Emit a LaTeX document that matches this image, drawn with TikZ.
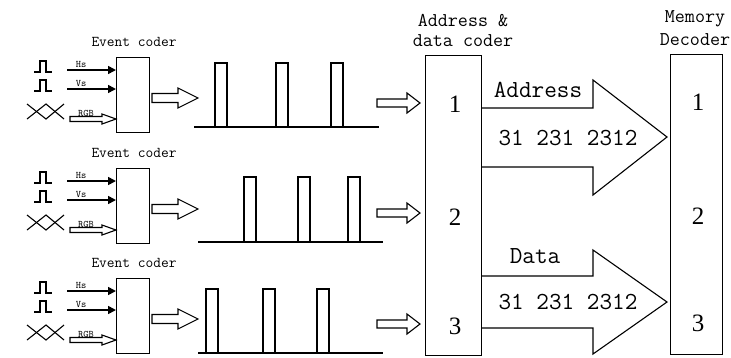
\documentclass[tikz,border=0pt]{standalone}
\usepackage{fontspec}
\setmainfont{Liberation Serif}
\usetikzlibrary{arrows.meta}

% hollow block arrow: from x0 to x1 at height y, shaft half-height h,
% head half-height H, head length L
\newcommand\hollowarrow[6]{%
  \draw[line width=1.1pt,line join=miter]
    (#1,#3-#4) -- (#2-#6,#3-#4) -- (#2-#6,#3-#5) -- (#2,#3)
    -- (#2-#6,#3+#5) -- (#2-#6,#3+#4) -- (#1,#3+#4) -- cycle;}

% small pulse glyph: base from x, at baseline y
\newcommand\pulseglyph[2]{%
  \draw[line width=1.1pt] (#1,#2) -- (#1+6,#2) -- (#1+6,#2-11) -- (#1+12,#2-11)
    -- (#1+12,#2) -- (#1+18,#2);}

% crossing bus glyph
\newcommand\busglyph[2]{%
  \draw[line width=1.1pt] (#1,#2-12) -- (#1+19,#2+3) -- (#1+37,#2-12);
  \draw[line width=1.1pt] (#1,#2+3) -- (#1+19,#2-12) -- (#1+37,#2+3);}

% one pulse of a pulse train
\newcommand\trainpulse[3]{%
  \draw[line width=1.1pt] (#1,#3) -- (#1,#2) -- (#1+12,#2) -- (#1+12,#3);}

\begin{document}
\begin{tikzpicture}[x=1pt,y=-1pt,
  box/.style={draw,line width=1.1pt,inner sep=0pt},
  sig/.style={line width=1.6pt,-{Triangle[length=8pt,width=8pt]}},
  tiny/.style={font=\ttfamily\fontsize{10}{10}\selectfont,inner sep=0pt},
  coderlabel/.style={font=\ttfamily\fontsize{15}{15}\selectfont,inner sep=0pt},
  title/.style={font=\ttfamily\fontsize{19.5}{20}\selectfont,inner sep=0pt},
  big/.style={font=\ttfamily\fontsize{24.5}{25}\selectfont,inner sep=0pt},
  num/.style={font=\fontsize{25}{26}\selectfont,inner sep=0pt}]
\useasboundingbox (0,0) rectangle (731,357);

% ---- three event coders ----
\foreach \t/\r in {57/1,168/2,278/3}{
  \node[box,anchor=north west,minimum width=33pt,minimum height=75pt] (ec\r) at (116,\t) {};
  \node[coderlabel] (ect\r) at (134,\t-15) {Event coder};
  % Hs and Vs inputs
  \coordinate (hs\r) at (67,\t+13);
  \coordinate (vs\r) at (67,\t+32);
  \draw[sig] (hs\r) -- (hs\r -| ec\r.west);
  \draw[sig] (vs\r) -- (vs\r -| ec\r.west);
  \node[tiny] (hsl\r) at (81,\t+7) {Hs};
  \node[tiny] (vsl\r) at (81,\t+26) {Vs};
  \pulseglyph{34}{\t+15}
  \pulseglyph{34}{\t+34}
  % RGB input
  \hollowarrow{70}{116}{\t+62}{2.5}{5}{14}
  \node[tiny] (rgbl\r) at (86,\t+56) {RGB};
  \busglyph{27}{\t+59}
  % output to pulse train
  \hollowarrow{152}{198}{\t+41}{4.5}{10}{20}
}

% ---- pulse trains ----
\draw[line width=1.1pt] (194,127) -- (379,127);
\foreach \x in {215,276,331} {\trainpulse{\x}{63}{127}}
\draw[line width=1.1pt] (198,242) -- (383,242);
\foreach \x in {244,298,348} {\trainpulse{\x}{177}{242}}
\draw[line width=1.1pt] (198,353) -- (383,353);
\foreach \x in {206,263,317} {\trainpulse{\x}{289}{353}}

% ---- address & data coder ----
\node[box,anchor=north west,minimum width=56pt,minimum height=300pt] (adc) at (425,55) {};
\node[title] (adct1) at (463,21) {Address \&};
\node[title] (adct2) at (463,41) {data coder};
\hollowarrow{377}{420}{103}{4}{10}{13}
\hollowarrow{377}{420}{213}{4}{10}{13}
\hollowarrow{377}{420}{324}{4}{10}{13}
\node[num] (a1) at (455,104) {1};
\node[num] (a2) at (455,217) {2};
\node[num] (a3) at (455,326) {3};

% ---- memory decoder ----
\node[box,anchor=north west,minimum width=52pt,minimum height=300pt] (md) at (670,54) {};
\node[title] (mdt1) at (695,19) {Memory};
\node[title] (mdt2) at (695,40) {Decoder};
\node[num] (m1) at (698,102) {1};
\node[num] (m2) at (698,216) {2};
\node[num] (m3) at (698,323) {3};

% ---- address bus arrow ----
\draw[line width=1.1pt,line join=miter]
  (481,108) -- (593,108) -- (593,80) -- (667,137) -- (593,195) -- (593,167) -- (481,167);
\node[big] (addr) at (538,90) {Address};
\node[big] (addrv) at (568,138) {31 231 2312};

% ---- data bus arrow ----
\draw[line width=1.1pt,line join=miter]
  (481,276) -- (593,276) -- (593,250) -- (667,302) -- (593,354) -- (593,328) -- (481,328);
\node[big] (data) at (535,256) {Data};
\node[big] (datav) at (568,302) {31 231 2312};
\end{tikzpicture}
\end{document}
